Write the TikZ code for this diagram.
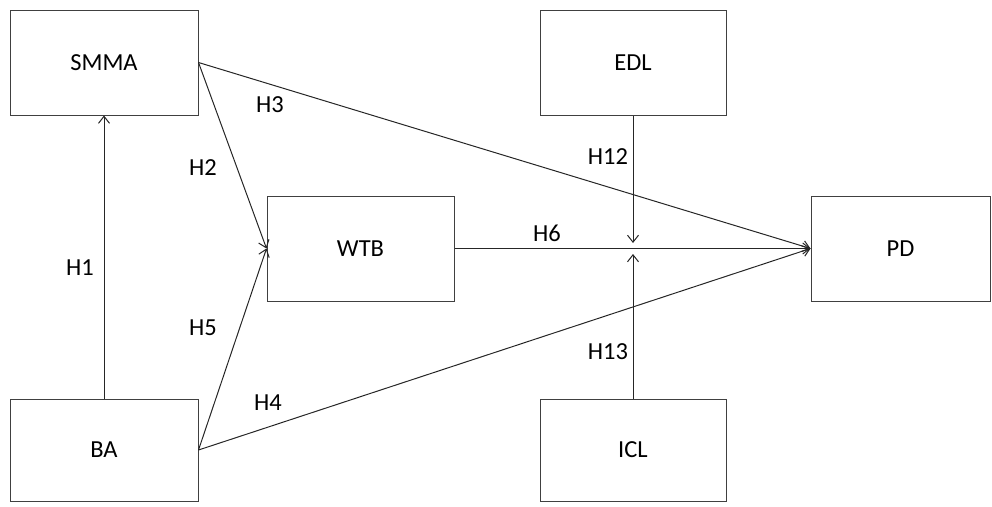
\documentclass[tikz,border=0pt]{standalone}
\usepackage{fontspec}
\setmainfont{Carlito}
\usetikzlibrary{arrows.meta}
\tikzset{
  box/.style={draw=black!75,line width=1pt,minimum width=188pt,minimum height=105pt,inner sep=0pt},
  link/.style={line width=1pt,draw=black!85,-{Straight Barb[length=7pt,width=11pt]}},
  hyp/.style={inner sep=0pt}
}
\begin{document}
\begin{tikzpicture}[x=1pt,y=-1pt,font=\fontsize{24.5pt}{29pt}\selectfont]
    \useasboundingbox (0,0) rectangle (992,506);
    \node [box] (smma) at (104,62.5) {SMMA};
    \node [box,minimum height=102pt] (ba) at (104,450) {BA};
    \node [box,minimum width=187pt] (wtb) at (360.5,248.5) {WTB};
    \node [box,minimum width=186pt] (edl) at (633,62.5) {EDL};
    \node [box,minimum width=186pt,minimum height=102pt] (icl) at (633,450) {ICL};
    \node [box,minimum width=179pt] (pd) at (900.5,248.5) {PD};
    % moderator ends
    \coordinate (mtop) at (633,243);
    \coordinate (mbot) at (633,254);
    \draw [link] (ba) -- (smma);
    \draw [link] (smma.east) -- (wtb.west);
    \draw [link] (smma.east) -- (pd.west);
    \draw [link] (ba.east) -- (wtb.west);
    \draw [link] (ba.east) -- (pd.west);
    \draw [link] (wtb) -- (pd);
    \draw [link] (edl) -- (mtop);
    \draw [link] (icl) -- (mbot);
    % hypotheses
    \node [hyp] (h1) at (80,268) {H1};
    \node [hyp] (h2) at (203,168) {H2};
    \node [hyp] (h3) at (270,105) {H3};
    \node [hyp] (h4) at (268,403) {H4};
    \node [hyp] (h5) at (203,328) {H5};
    \node [hyp] (h6) at (547,233) {H6};
    \node [hyp] (h12) at (608,157) {H12};
    \node [hyp] (h13) at (608,352) {H13};
\end{tikzpicture}
\end{document}
